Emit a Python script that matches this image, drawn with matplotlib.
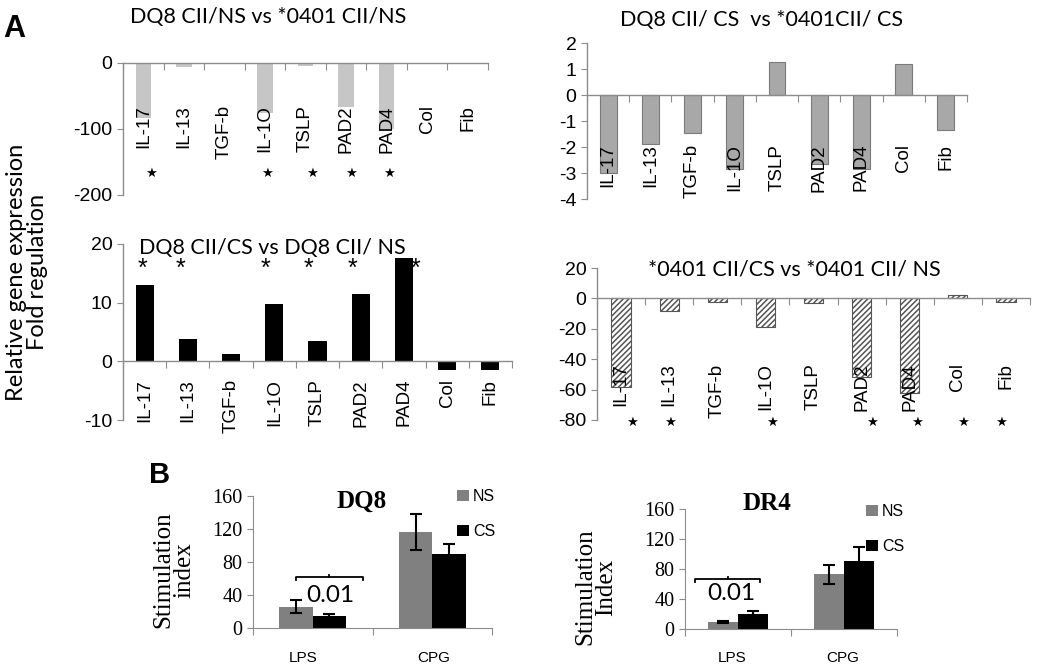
import numpy as np
import matplotlib.pyplot as plt

W, H = 1050, 667

genes = ['IL-17', 'IL-13', 'TGF-b', 'IL-1O', 'TSLP', 'PAD2', 'PAD4', 'Col', 'Fib']

# fold regulation values
ns_dq8_vs_0401 = [-84, -6, -0.5, -76, -4, -67, -100, 0, 0]
cs_dq8_vs_0401 = [-3.0, -1.87, -1.47, -2.85, 1.26, -2.65, -2.85, 1.19, -1.35]
dq8_cs_vs_ns = [13.0, 3.8, 1.2, 9.8, 3.5, 11.5, 17.6, -1.4, -1.4]
d0401_cs_vs_ns = [-58, -8.5, -2.5, -19, -3, -52, -62, 2.5, -2.5]

sig_1 = [0, 3, 4, 5, 6]
sig_3 = [0, 1, 3, 4, 5, 6]
sig_4 = [0, 1, 3, 5, 6, 7, 8]

# panel B
stim_groups = ['LPS', 'CPG']
dq8_ns = [26, 116]
dq8_ns_err = [8, 22]
dq8_cs = [15, 90]
dq8_cs_err = [1.5, 12]
dr4_ns = [9, 73]
dr4_ns_err = [1.5, 13]
dr4_cs = [20, 91]
dr4_cs_err = [4.5, 18]

GRAY = '#8c8c8c'
SANS = ['Liberation Sans', 'DejaVu Sans']
TITLE = ['Lato', 'DejaVu Sans']
SERIF = ['Liberation Serif', 'DejaVu Serif']

plt.rcParams['hatch.linewidth'] = 1.1

fig = plt.figure(figsize=(W / 100, H / 100), dpi=100)


def px_axes(x0, x1, ytop, ybot):
    return fig.add_axes([x0 / W, 1 - ybot / H, (x1 - x0) / W, (ybot - ytop) / H])


def fig_text(x, y, s, **kw):
    return fig.text(x / W, 1 - y / H, s, **kw)


def style_a(ax, ylim, yticks, lab_y):
    ax.set_xlim(-0.5, 8.5)
    ax.set_ylim(*ylim)
    for s in ['top', 'right']:
        ax.spines[s].set_visible(False)
    ax.spines['bottom'].set_position(('data', 0))
    for s in ['left', 'bottom']:
        ax.spines[s].set_color(GRAY)
        ax.spines[s].set_linewidth(1.0)
    ax.set_xticks(np.arange(-0.5, 9, 1))
    ax.set_xticklabels([])
    ax.set_yticks(yticks)
    ax.tick_params(axis='x', direction='out', length=5, color=GRAY)
    ax.tick_params(axis='y', direction='out', length=4, color=GRAY, labelsize=14)
    for lab in ax.get_yticklabels():
        lab.set_family(SANS)
    for i, g in enumerate(genes):
        ax.text(i, lab_y, g, rotation=90, ha='center', va='top', fontsize=13.5,
                family=SANS, clip_on=False)
    ax.set_facecolor('none')


x = np.arange(len(genes))

# ---- A: top left
ax1 = px_axes(123, 488, 63, 195)
ax1.bar(x, ns_dq8_vs_0401, width=0.38, color='#c6c6c6', zorder=0)
style_a(ax1, (-200, 0), [0, -100, -200], -64)
ax1.set_yticklabels(['0', '-100', '-200'])
for i, off in zip(sig_1, [0.19, 0.05, 0.16, 0.12, 0.05]):
    ax1.text(i + off, -167, '★', ha='center', va='center', fontsize=9.5, family=['DejaVu Sans'])
fig_text(268, 17, 'DQ8 CII/NS vs *0401 CII/NS', ha='center', va='center', fontsize=15.5, family=TITLE)

# ---- A: top right
ax2 = px_axes(587, 967, 43, 199)
ax2.bar(x, cs_dq8_vs_0401, width=0.4, color='#a8a8a8', edgecolor='#7a7a7a', linewidth=0.8, zorder=0)
style_a(ax2, (-4, 2), [2, 1, 0, -1, -2, -3, -4], -1.88)
ax2.set_yticklabels(['2', '1', '0', '-1', '-2', '-3', '-4'])
fig_text(761, 20, 'DQ8 CII/ CS  vs *0401CII/ CS', ha='center', va='center', fontsize=15.5, family=TITLE)

# ---- A: middle left
ax3 = px_axes(123, 512, 244, 420)
ax3.bar(x, dq8_cs_vs_ns, width=0.42, color='black', zorder=0)
style_a(ax3, (-10, 20), [20, 10, 0, -10], -3.0)
ax3.set_yticklabels(['20', '10', '0', '-10'])
for i, off in zip(sig_3, [-0.06, -0.18, -0.21, -0.22, -0.18, 0.26]):
    ax3.text(i + off, 15.8, '*', ha='center', va='center', fontsize=18, family=SANS)
fig_text(272, 248, 'DQ8 CII/CS vs DQ8 CII/ NS', ha='center', va='center', fontsize=15.5, family=TITLE)

# ---- A: middle right
ax4 = px_axes(597, 1030, 268, 420)
ax4.bar(x, d0401_cs_vs_ns, width=0.4, color='white', edgecolor='#555555', hatch='//////',
        linewidth=0.8, zorder=0)
style_a(ax4, (-80, 20), [20, 0, -20, -40, -60, -80], -42.8)
ax4.set_yticklabels(['20', '0', '-20', '-40', '-60', '-80'])
for i, off in zip(sig_4, [0.23, 0.02, 0.14, 0.22, 0.15, 0.11, -0.1]):
    ax4.text(i + off, -81.6, '★', ha='center', va='center', fontsize=9.5,
             family=['DejaVu Sans'], clip_on=False)
fig_text(794, 269, '*0401 CII/CS vs *0401 CII/ NS', ha='center', va='center', fontsize=15.5, family=TITLE)

fig_text(27, 272, 'Relative gene expression\nFold regulation', rotation=90, ha='center',
         va='center', fontsize=17, family=TITLE, linespacing=1.05)
fig_text(14, 29, 'A', ha='center', va='center', fontsize=22, fontweight='bold', family=SANS)
fig_text(160, 475, 'B', ha='center', va='center', fontsize=21, fontweight='bold', family=SANS)


# ---- B panels
def style_b(ax):
    ax.set_xlim(-0.5, 1.5)
    ax.set_ylim(0, 160)
    for s in ['top', 'right']:
        ax.spines[s].set_visible(False)
    for s in ['left', 'bottom']:
        ax.spines[s].set_color(GRAY)
    ax.set_xticks([-0.5, 0.5, 1.5])
    ax.set_xticklabels([])
    ax.set_yticks([0, 40, 80, 120, 160])
    ax.tick_params(axis='x', direction='out', length=5, color=GRAY)
    ax.tick_params(axis='y', direction='out', length=4, color=GRAY, labelsize=14.5)
    for lab in ax.get_yticklabels():
        lab.set_family(SERIF)


def stim_panel(ax, ns, ns_err, cs, cs_err):
    xb = np.arange(len(stim_groups))
    bw = 0.28
    b1 = ax.bar(xb - bw / 2, ns, width=bw, color='#808080', label='NS')
    b2 = ax.bar(xb + bw / 2, cs, width=bw, color='black', label='CS')
    ax.errorbar(xb - bw / 2, ns, yerr=ns_err, fmt='none', ecolor='black', elinewidth=1.5,
                capsize=4, capthick=1.5)
    ax.errorbar(xb + bw / 2, cs, yerr=cs_err, fmt='none', ecolor='black', elinewidth=1.5,
                capsize=4, capthick=1.5)
    style_b(ax)
    return b1, b2


def bracket(ax, x0, x1, y, xm):
    ax.plot([x0, x0, x1, x1], [y - 4, y, y, y - 4], color='black', lw=1.3)
    ax.plot([xm, xm], [y, y + 2.5], color='black', lw=1.3)


bl = px_axes(253, 492, 496, 628)
h1 = stim_panel(bl, dq8_ns, dq8_ns_err, dq8_cs, dq8_cs_err)
bracket(bl, -0.14, 0.42, 62, 0.14)
bl.text(0.15, 38.8, '0.01', ha='center', va='center', fontsize=17.5, family=TITLE)
bl.text(0.41, 154, 'DQ8', ha='center', va='center', fontsize=18, fontweight='bold',
        family=SERIF, clip_on=False)
bl.legend(handles=h1, loc='upper left', bbox_to_anchor=(457 / W, 1 - 489 / H),
          bbox_transform=fig.transFigure, frameon=False, handlelength=0.75,
          handleheight=0.75, handletextpad=0.25, labelspacing=1.25, borderpad=0,
          borderaxespad=0, prop={'family': SANS, 'size': 11.5})
fig_text(303, 658, 'LPS', ha='center', va='center', fontsize=11, family=SANS)
fig_text(434, 658, 'CPG', ha='center', va='center', fontsize=11, family=SANS)
fig_text(174, 570, 'Stimulation\nindex', rotation=90, ha='center', va='center',
         fontsize=18, family=SERIF, linespacing=0.95)

br = px_axes(685, 897, 509, 629)
h2 = stim_panel(br, dr4_ns, dr4_ns_err, dr4_cs, dr4_cs_err)
bracket(br, -0.41, 0.21, 67, -0.09)
br.text(-0.06, 46.7, '0.01', ha='center', va='center', fontsize=17.5, family=TITLE)
br.text(0.27, 166.7, 'DR4', ha='center', va='center', fontsize=18, fontweight='bold',
        family=SERIF, clip_on=False)
br.legend(handles=h2, loc='upper left', bbox_to_anchor=(866 / W, 1 - 504 / H),
          bbox_transform=fig.transFigure, frameon=False, handlelength=0.75,
          handleheight=0.75, handletextpad=0.25, labelspacing=1.25, borderpad=0,
          borderaxespad=0, prop={'family': SANS, 'size': 11.5})
fig_text(732, 658, 'LPS', ha='center', va='center', fontsize=11, family=SANS)
fig_text(843, 658, 'CPG', ha='center', va='center', fontsize=11, family=SANS)
fig_text(596, 587, 'Stimulation\nIndex', rotation=90, ha='center', va='center',
         fontsize=18, family=SERIF, linespacing=0.95)

fig.savefig('out.png', dpi=100)
